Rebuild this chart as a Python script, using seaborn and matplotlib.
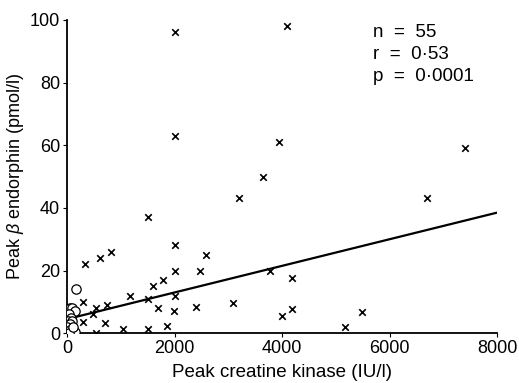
import numpy as np
import pandas as pd
import matplotlib
matplotlib.use('Agg')
import matplotlib.pyplot as plt
import seaborn as sns

# crosses: peak creatine kinase (IU/l) vs peak beta endorphin (pmol/l)
ck_x = [2000, 4100, 2000, 3950, 3650, 3200, 7400, 6700, 1500, 330,
        610, 820, 2000, 2580, 2000, 2480, 3780, 1600, 1790, 1170,
        1500, 2000, 300, 540, 740, 480, 1690, 1990, 2400, 3090,
        4000, 300, 710, 540, 1040, 1500, 1860, 4190, 4190, 5490, 5170]
end_x = [96, 98, 63, 61, 50, 43, 59, 43, 37, 22,
         24, 26, 28, 25, 20, 20, 20, 15, 17, 12,
         11, 12, 10, 8, 9, 6, 8, 7, 8.5, 9.5,
         5.5, 3.5, 3.2, 0, 1.3, 1.3, 2.2, 17.5, 7.7, 6.8, 2]

# circles: the low group near the origin
ck_o = [170, 50, 100, 150, 30, 80, 20, 100, 50, 10, 60, 150, 30, 120]
end_o = [14, 8, 8, 7, 6, 5, 4, 4, 3, 2, 1, 0.5, 0, 2]

# regression line end points
fit_x = [0, 8000]
fit_y = [4.5, 38.5]

stats_text = ['n  =  55', 'r  =  0·53', 'p  =  0·0001']

sns.set_style('ticks')
plt.rcParams['font.family'] = ['Liberation Sans', 'DejaVu Sans']
plt.rcParams['mathtext.fontset'] = 'custom'
plt.rcParams['mathtext.it'] = 'Liberation Sans:italic'
plt.rcParams['mathtext.rm'] = 'Liberation Sans'
plt.rcParams['text.color'] = 'black'
plt.rcParams['axes.labelcolor'] = 'black'

fig = plt.figure(figsize=(5.19, 3.83), dpi=100)
ax = fig.add_axes([0.129, 0.130, 0.829, 0.818])

df_x = pd.DataFrame({'ck': ck_x, 'end': end_x})
df_o = pd.DataFrame({'ck': ck_o, 'end': end_o})

sns.lineplot(x=fit_x, y=fit_y, ax=ax, color='black', lw=1.6)
sns.scatterplot(data=df_x, x='ck', y='end', ax=ax, marker='x', s=22,
                color='black', linewidth=1.2, zorder=3)
sns.scatterplot(data=df_o, x='ck', y='end', ax=ax, marker='o', s=45,
                facecolor='white', edgecolor='black', linewidth=0.9, zorder=4)

ax.set_xlim(0, 8000)
ax.set_ylim(0, 100)
ax.set_xticks([0, 2000, 4000, 6000, 8000])
ax.set_yticks([0, 20, 40, 60, 80, 100])
ax.tick_params(axis='both', length=3, width=0.8, labelsize=13, pad=2,
               colors='black')
ax.set_xlabel('Peak creatine kinase (IU/l)', fontsize=13.5, labelpad=5)
ax.set_ylabel(r'Peak $\beta$ endorphin (pmol/l)', fontsize=13, labelpad=3)
sns.despine(ax=ax)
for s in ['left', 'bottom']:
    ax.spines[s].set_linewidth(1.3)
    ax.spines[s].set_color('black')

for i, t in enumerate(stats_text):
    ax.text(0.712, 0.988 - i * 0.070, t, transform=ax.transAxes,
            fontsize=13.5, va='top', ha='left')

fig.savefig('out.png', dpi=100)
